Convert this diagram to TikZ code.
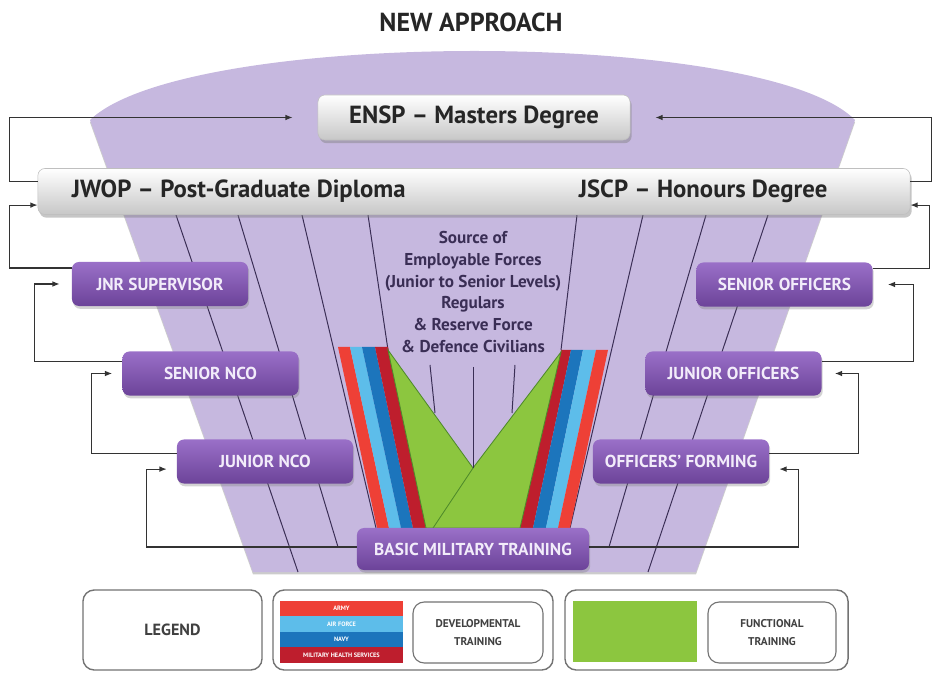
\documentclass[tikz,border=0pt]{standalone}
\usepackage{fontspec}
\setmainfont{PT Sans}
\usetikzlibrary{positioning,shadows,arrows.meta}
\definecolor{lilac}{HTML}{C6B8DF}
\definecolor{plumtop}{HTML}{9A70C8}
\definecolor{plumbot}{HTML}{6C4399}
\definecolor{lavwhite}{HTML}{F2ECFA}
\definecolor{guideink}{HTML}{3A2E55}
\definecolor{armyred}{HTML}{EE4036}
\definecolor{airblue}{HTML}{5DBDEA}
\definecolor{navyblue}{HTML}{1C75BC}
\definecolor{medred}{HTML}{BE1E2D}
\definecolor{fgreen}{HTML}{8CC63F}
\definecolor{fgreendark}{HTML}{4E8A2A}

\begin{document}
\begin{tikzpicture}[x=0.025cm, y=-0.025cm,
  rankbox/.style={rounded corners=5pt, top color=plumtop, bottom color=plumbot,
    minimum width=4.4cm, minimum height=1.1cm, text=lavwhite,
    font=\bfseries\fontsize{12.3}{14}\selectfont,
    drop shadow={opacity=0.35, shadow xshift=0.3mm, shadow yshift=-0.7mm}},
  degreebox/.style={rounded corners=5pt, top color=white, bottom color=black!22,
    draw=black!25, minimum height=1.15cm,
    drop shadow={opacity=0.45, shadow xshift=0.4mm, shadow yshift=-0.8mm}},
  degreetext/.style={font=\bfseries\fontsize{17.6}{20}\selectfont, text=black!85},
  link/.style={draw=black!80, line width=0.8pt, -{Latex[length=1.8mm,width=1.4mm]}},
  guide/.style={draw=guideink, line width=0.7pt},
  keybox/.style={draw=black!55, line width=1pt, rounded corners=8pt, fill=white},
  keytext/.style={font=\bfseries\fontsize{8}{13}\selectfont, text=black!75, align=center},
  band/.style={minimum width=3.075cm, minimum height=0.3875cm, inner sep=0pt,
    text=white, font=\bfseries\fontsize{4.5}{5}\selectfont}]
  \useasboundingbox (0,0) rectangle (932,674);

  % funnel
  \fill[lilac, drop shadow={opacity=0.4, shadow xshift=0mm, shadow yshift=-0.6mm}]
    (90,120) .. controls (185,28) and (765,28) .. (855,120) -- (696,572) -- (253,572) -- cycle;

  \foreach \xa/\ya/\xb/\yb in {176/215/298/572, 238/215/338/547, 302/215/376/528, 368/215/388/350,
      768/215/648/572, 706/215/609/547, 643/215/570/528, 577/215/561/350}
    \draw[guide] (\xa,\ya) -- (\xb,\yb);

  % service stripes
  \fill[armyred]  (338,347) -- (350,347) -- (389,528) -- (377,528) -- cycle;
  \fill[airblue]  (350,347) -- (362,347) -- (401,528) -- (389,528) -- cycle;
  \fill[navyblue] (362,347) -- (375,347) -- (413,528) -- (401,528) -- cycle;
  \fill[medred]   (375,347) -- (388,347) -- (426,528) -- (413,528) -- cycle;
  \fill[medred]   (561,350) -- (571,350) -- (533,528) -- (520,528) -- cycle;
  \fill[navyblue] (571,350) -- (583,350) -- (546,528) -- (533,528) -- cycle;
  \fill[airblue]  (583,350) -- (596,350) -- (558,528) -- (546,528) -- cycle;
  \fill[armyred]  (596,350) -- (608,350) -- (570,528) -- (558,528) -- cycle;

  % functional wedge
  \filldraw[fill=fgreen, draw=fgreendark, line width=0.6pt]
    (388,350) -- (473,468) -- (561,352) -- (520,528) -- (426,528) -- cycle;
  \draw[fgreendark, line width=0.6pt] (473,468) -- (433,528);

  \foreach \xa/\ya/\xb/\yb in {430/365/435/413, 473/367/473/468, 515/365/512/413}
    \draw[guide] (\xa,\ya) -- (\xb,\yb);

  \node[font=\bfseries\fontsize{12.2}{15.5}\selectfont, text=guideink, align=center] (source) at (473,292)
    {Source of\\Employable Forces\\(Junior to Senior Levels)\\Regulars\\\& Reserve Force\\\& Defence Civilians};

  % title and degrees
  \node[font=\bfseries\fontsize{18.5}{21}\selectfont, text=black!85] (title) at (471,22) {NEW APPROACH};
  \node[degreebox, degreetext, minimum width=7.8cm, minimum height=1.125cm] (ensp) at (474,117.5)
    {ENSP -- Masters Degree};
  \node[degreebox, minimum width=21.8cm] (jwop) at (474,191.5) {};
  \node[degreetext, anchor=west] (jwoptxt) at ([xshift=7.3mm]jwop.west) {JWOP -- Post-Graduate Diploma};
  \node[degreetext, anchor=east] (jscptxt) at ([xshift=-19.5mm]jwop.east) {JSCP -- Honours Degree};

  % ranks
  \node[rankbox] (jnrsup) at (160,284) {JNR SUPERVISOR};
  \node[rankbox] (srnco) at (210.5,373.5) {SENIOR NCO};
  \node[rankbox] (jrnco) at (265,461.5) {JUNIOR NCO};
  \node[rankbox] (srofc) at (784.5,284.5) {SENIOR OFFICERS};
  \node[rankbox] (jrofc) at (733.5,373.5) {JUNIOR OFFICERS};
  \node[rankbox] (ofcform) at (681,461.5) {OFFICERS' FORMING};
  \node[rankbox, minimum width=5.8cm, minimum height=1.05cm] (bmt) at (473,549) {BASIC MILITARY TRAINING};

  % progression links
  \draw[link] ([yshift=2.5mm]jwop.west) -- ++(-28,0) |- ([xshift=-6.25mm]ensp.west);
  \draw[link] ([yshift=2.5mm]jwop.east) -- ++(21,0) |- ([xshift=6.25mm]ensp.east);
  \draw[link] ([yshift=4mm]jnrsup.west) -- ++(-62,0) |- ([yshift=-3.4mm]jwop.west);
  \draw[link] ([yshift=2.9mm]srnco.west) -- ++(-88,0) |- ([xshift=-3mm]jnrsup.west);
  \draw[link] ([yshift=2.1mm]jrnco.west) -- ++(-85,0) |- ([xshift=-2.5mm]srnco.west);
  \draw[link] ([yshift=0.5mm]bmt.west) -- ++(-210,0) |- ([xshift=-2.5mm,yshift=-1.9mm]jrnco.west);
  \draw[link] ([yshift=4mm]srofc.east) -- ++(57,0) |- ([yshift=-3.4mm]jwop.east);
  \draw[link] ([yshift=2.9mm]jrofc.east) -- ++(92,0) |- ([xshift=3.75mm]srofc.east);
  \draw[link] ([yshift=2.1mm]ofcform.east) -- ++(89,0) |- ([xshift=3.25mm]jrofc.east);
  \draw[link] ([yshift=0.5mm]bmt.east) -- ++(209,0) |- ([xshift=2.5mm,yshift=-1.9mm]ofcform.east);

  % legend
  \node[keybox, minimum width=4.475cm, minimum height=2cm, font=\bfseries\fontsize{11.5}{13}\selectfont, text=black!75]
    (legend) at (172.5,630) {LEGEND};
  \node[keybox, minimum width=7cm, minimum height=2cm] (devkey) at (413,630) {};
  \node[keybox, minimum width=7.075cm, minimum height=2cm] (funkey) at (706.5,630) {};
  \foreach \clr/\lbl [count=\i] in {armyred/ARMY, airblue/AIR FORCE, navyblue/NAVY, medred/MILITARY HEALTH SERVICES}
    \node[band, fill=\clr] (band\i) at (341.5,{593+\i*15.5}) {\lbl};
  \node[keybox, line width=0.8pt, minimum width=3.25cm, minimum height=1.525cm, keytext]
    (devtxt) at (478,632.5) {DEVELOPMENTAL\\TRAINING};
  \node[fill=fgreen, minimum width=3.1cm, minimum height=1.525cm] (greenkey) at (635,631.5) {};
  \node[keybox, line width=0.8pt, minimum width=3.2cm, minimum height=1.525cm, keytext]
    (funtxt) at (772,632.5) {FUNCTIONAL\\TRAINING};
\end{tikzpicture}
\end{document}
